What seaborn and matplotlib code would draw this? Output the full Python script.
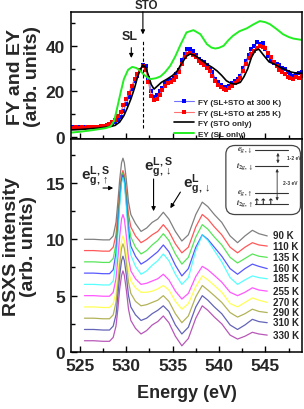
import numpy as np
import pandas as pd
import matplotlib
matplotlib.use('Agg')
import matplotlib.pyplot as plt
import seaborn as sns
from matplotlib.patches import FancyBboxPatch
from matplotlib.ticker import MultipleLocator

# ---------------- data: top panel ----------------
fy_start, fy_step = 524.0, 0.3
fy_300K = [4.0, 4.1, 4.0, 4.2, 4.1, 4.3, 4.2, 4.4, 4.3, 4.5, 4.4, 4.6, 4.7, 4.9, 5.2,
           5.8, 6.5, 7.4, 8.8, 11.5, 14.5, 17.4, 21.0, 24.5, 27.0, 29.5, 31.6, 31.0, 26.0, 20.0,
           17.6, 18.2, 20.0, 21.5, 23.5, 24.5, 25.0, 25.8, 27.5, 29.5, 34.0, 36.5, 38.6, 38.9, 38.0,
           36.0, 34.2, 33.5, 33.0, 31.5, 30.0, 28.5, 25.5, 24.0, 22.8, 22.0, 21.8, 22.5, 23.8, 24.5,
           25.5, 27.0, 30.5, 33.5, 36.0, 38.5, 40.0, 41.6, 41.0, 41.5, 38.5, 35.7, 34.0, 32.5, 32.0,
           31.5, 30.5, 30.0, 28.5, 27.5, 27.0, 27.5, 28.0, 28.4]
fy_255K = [3.8, 4.0, 4.2, 3.9, 4.1, 4.0, 4.3, 4.2, 4.4, 4.3, 4.5, 4.6, 4.8, 5.2, 5.6,
           6.4, 7.6, 9.0, 11.0, 13.8, 16.5, 19.5, 22.5, 25.5, 27.5, 29.5, 31.0, 29.5, 24.0, 18.0,
           16.0, 16.8, 18.5, 20.5, 22.5, 23.5, 24.0, 24.8, 26.5, 28.5, 32.0, 35.0, 36.5, 37.0, 36.0,
           35.0, 33.5, 32.5, 31.8, 30.5, 29.0, 27.0, 24.5, 23.0, 22.0, 21.0, 20.8, 21.5, 22.5, 23.5,
           24.5, 26.0, 29.0, 32.0, 34.5, 36.5, 38.0, 39.0, 40.0, 39.5, 39.0, 37.0, 35.0, 33.0, 31.0,
           29.5, 28.5, 27.5, 26.5, 26.0, 25.5, 26.5, 26.0, 27.0]
sto_E = [524.0, 525.0, 526.0, 527.0, 527.8, 528.4, 528.8, 529.3, 529.75, 530.1, 530.5, 530.9,
         531.2, 531.5, 531.8, 532.1, 532.4, 532.7, 533.0, 533.4, 533.8, 534.4, 535.0, 535.5,
         536.0, 536.5, 536.9, 537.3, 537.7, 538.2, 538.7, 539.3, 539.8, 540.3, 540.8, 541.3,
         541.8, 542.3, 542.7, 543.1, 543.5, 543.9, 544.3, 544.8, 545.4, 546.0, 546.6, 547.2,
         547.8, 548.4, 548.9]
sto_FY = [3.0, 3.2, 3.5, 3.8, 4.2, 4.6, 5.0, 6.5, 9.3, 12.5, 16.6, 21.5, 26.0, 29.5, 31.6,
          30.5, 27.0, 23.0, 21.0, 22.5, 24.0, 25.4, 27.0, 29.0, 32.5, 35.5, 36.5, 36.0, 35.0,
          33.5, 32.0, 30.5, 29.0, 27.0, 24.7, 23.5, 23.2, 24.0, 26.5, 30.0, 35.0, 38.0, 38.6,
          36.0, 33.0, 32.0, 30.5, 29.5, 28.5, 28.0, 28.0]
sl_E = [524.0, 525.0, 526.0, 527.0, 527.8, 528.3, 528.7, 529.0, 529.4, 529.75, 530.2, 530.65,
        531.1, 531.5, 532.0, 532.6, 533.2, 533.7, 534.2, 534.75, 535.3, 535.8, 536.5, 537.25,
        538.0, 538.7, 539.2, 539.6, 540.0, 540.5, 541.0, 541.5, 542.2, 543.0, 543.7, 544.4,
        545.0, 545.5, 546.2, 546.9, 547.5, 548.0, 548.9]
sl_EY = [1.8, 2.2, 2.7, 3.3, 3.8, 4.5, 7.0, 12.2, 19.5, 25.4, 29.5, 30.8, 30.3, 29.1, 27.0,
         25.4, 25.8, 26.6, 28.5, 31.3, 35.5, 40.1, 46.0, 47.0, 45.2, 40.8, 39.3, 38.9, 39.2,
         40.1, 42.5, 44.5, 46.5, 47.8, 49.5, 51.0, 50.5, 49.6, 47.5, 45.2, 44.0, 43.3, 42.7]
sto_edge = 531.8
sl_edge = 530.55

# ---------------- data: bottom panel ----------------
rsxs_E = [525.5, 526.5, 527.5, 528.2, 528.6, 528.9, 529.1, 529.3, 529.5, 529.65, 529.8, 530.0,
          530.25, 530.5, 531.0, 531.6, 532.2, 532.8, 533.4, 534.0, 534.6, 535.3, 536.0, 536.7,
          537.5, 538.2, 538.8, 539.5, 540.3, 541.2, 542.0, 542.8, 543.6, 544.3, 545.2]
temps = ['90 K', '110 K', '135 K', '160 K', '185 K', '255 K', '270 K', '290 K', '310 K', '330 K']
offsets = [10, 9, 8, 7, 6, 5, 4, 3, 2, 1]
rsxs = {
    '90 K':  [0, 0, -0.05, -0.05, 0.3, 1.5, 3.3, 5.3, 6.8, 7.2, 6.8, 5.4, 3.3, 2.2, 1.4, 0.7, 1.0, 1.5,
              1.8, 2.4, 1.8, 0.7, -0.15, 0.4, 2.2, 3.3, 2.9, 2.2, 1.5, 0.3, -0.3, 0.3, 0.8, 0.5, 0.3],
    '110 K': [0, 0, -0.05, -0.05, 0.3, 1.4, 3.2, 5.2, 6.7, 7.1, 6.7, 5.3, 3.2, 2.1, 1.3, 0.7, 1.0, 1.4,
              1.7, 2.3, 1.7, 0.6, -0.2, 0.3, 2.1, 3.2, 2.8, 2.1, 1.4, 0.3, -0.2, 0.3, 0.7, 0.5, 0.4],
    '135 K': [0, 0, -0.05, -0.05, 0.3, 1.6, 3.6, 5.8, 7.4, 7.9, 7.4, 5.8, 3.5, 2.2, 1.3, 0.7, 1.0, 1.5,
              1.9, 2.5, 1.9, 0.7, -0.2, 0.4, 2.2, 3.3, 2.9, 2.2, 1.5, 0.4, -0.1, 0.3, 0.7, 0.5, 0.4],
    '160 K': [0, 0, -0.05, -0.05, 0.3, 1.8, 4.0, 6.4, 8.2, 8.7, 8.2, 6.4, 3.8, 2.4, 1.5, 0.8, 1.1, 1.5,
              1.9, 2.5, 1.9, 0.7, -0.25, 0.4, 2.3, 3.4, 3.0, 2.3, 1.5, 0.4, -0.1, 0.4, 0.8, 0.6, 0.4],
    '185 K': [0, 0, -0.05, -0.05, 0.3, 2.0, 4.4, 7.0, 9.0, 9.5, 9.0, 7.0, 4.2, 2.6, 1.6, 0.9, 1.2, 1.7,
              2.1, 2.7, 2.1, 0.9, 0.0, 0.6, 3.0, 4.4, 3.9, 3.0, 2.0, 0.6, 0.0, 0.4, 0.75, 0.6, 0.5],
    '255 K': [0, 0, -0.05, -0.05, 0.3, 1.5, 3.3, 5.3, 6.8, 7.2, 6.8, 5.4, 3.3, 2.2, 1.5, 1.0, 1.1, 1.3,
              1.5, 1.9, 1.4, 0.4, -0.3, 0.2, 1.7, 2.6, 2.3, 1.8, 1.2, 0.3, 0.0, 0.3, 0.7, 0.5, 0.4],
    '270 K': [0, 0, -0.05, -0.05, 0.3, 1.3, 2.9, 4.6, 5.9, 6.3, 5.9, 4.8, 3.2, 2.3, 1.7, 1.3, 1.3, 1.4,
              1.6, 1.9, 1.5, 0.5, -0.2, 0.3, 1.8, 2.75, 2.4, 1.9, 1.3, 0.3, 0.0, 0.4, 0.8, 0.6, 0.4],
    '290 K': [0, 0, -0.05, -0.05, 0.3, 1.4, 3.0, 4.8, 6.2, 6.6, 6.2, 5.0, 3.2, 2.2, 1.5, 1.1, 1.2, 1.4,
              1.6, 2.0, 1.5, 0.4, -0.4, 0.2, 1.9, 2.9, 2.5, 2.0, 1.4, 0.5, 0.1, 0.4, 0.8, 0.6, 0.5],
    '310 K': [0, 0, -0.05, -0.05, 0.3, 1.3, 3.0, 4.8, 6.1, 6.5, 6.1, 4.9, 3.0, 2.0, 1.3, 0.8, 1.0, 1.4,
              1.7, 2.1, 1.6, 0.4, -0.4, 0.2, 2.0, 3.0, 2.6, 2.0, 1.4, 0.4, 0.0, 0.4, 0.9, 0.7, 0.6],
    '330 K': [0, 0, -0.05, -0.05, 0.3, 1.3, 2.8, 4.6, 5.8, 6.2, 5.8, 4.6, 2.8, 1.8, 1.1, 0.6, 0.9, 1.4,
              1.7, 2.2, 1.6, 0.4, -0.45, 0.2, 2.0, 3.1, 2.7, 2.1, 1.5, 0.5, 0.15, 0.4, 0.75, 0.6, 0.5],
}
colors = ['#555555', '#ff2020', '#20dd20', '#2020ff', '#20ffff', '#ff20ff', '#ffff20',
          '#999922', '#3030a0', '#a020a0']

# ---------------- style ----------------
sns.set_theme(style='ticks')
plt.rcParams['font.family'] = ['Liberation Sans', 'DejaVu Sans']
plt.rcParams['font.weight'] = 'bold'
plt.rcParams['axes.labelweight'] = 'bold'
plt.rcParams['mathtext.fontset'] = 'custom'
plt.rcParams['mathtext.rm'] = 'Liberation Sans:bold'
plt.rcParams['mathtext.bf'] = 'Liberation Sans:bold'
plt.rcParams['mathtext.it'] = 'Liberation Sans:italic:bold'

fig = plt.figure(figsize=(3.04, 4.10), dpi=100)
ax_top = fig.add_axes([0.232, 0.6585, 0.763, 0.3098])
ax_bot = fig.add_axes([0.232, 0.139, 0.763, 0.5195])

# ---------------- top panel ----------------
fy_E = [round(fy_start + fy_step * i, 2) for i in range(len(fy_300K))]
top_df = pd.DataFrame({'E': fy_E, 'y300': fy_300K, 'y255': fy_255K[:len(fy_E)]})
sns.lineplot(data=top_df, x='E', y='y300', ax=ax_top, color='#7070ff', lw=0.8,
             marker='s', markersize=3.0, markerfacecolor='#0000ff', markeredgecolor='#0000ff',
             markeredgewidth=0, estimator=None, sort=False, label='FY (SL+STO at 300 K)')
sns.lineplot(data=top_df, x='E', y='y255', ax=ax_top, color='#ff7070', lw=0.8,
             marker='s', markersize=3.0, markerfacecolor='#ff0000', markeredgecolor='#ff0000',
             markeredgewidth=0, estimator=None, sort=False, label='FY (SL+STO at 255 K)')
sns.lineplot(x=sto_E, y=sto_FY, ax=ax_top, color='black', lw=1.2, estimator=None, sort=False,
             label='FY (STO only)')
sns.lineplot(x=sl_E, y=sl_EY, ax=ax_top, color='#22ee22', lw=1.4, estimator=None, sort=False,
             label='EY (SL only)')

ax_top.vlines(sto_edge, 4, 42, colors='black', linestyles=(0, (3, 2)), lw=0.8)
ax_top.annotate('', xy=(sto_edge, 43.9), xytext=(sto_edge, 56.3),
                arrowprops=dict(arrowstyle='-|>', color='black', lw=0.8, mutation_scale=6),
                annotation_clip=False)
ax_top.text(sto_edge + 0.4, 58.1, 'STO', ha='center', va='center', fontsize=8.3,
            fontweight='bold', clip_on=False)
ax_top.annotate('', xy=(sl_edge, 33.5), xytext=(sl_edge, 40.5),
                arrowprops=dict(arrowstyle='-|>', color='black', lw=0.8, mutation_scale=6))
ax_top.text(sl_edge - 0.2, 44.6, 'SL', ha='center', va='center', fontsize=9, fontweight='bold')

ax_top.set_xlim(524, 549)
ax_top.set_ylim(-1, 55)
ax_top.yaxis.set_major_locator(MultipleLocator(20))
ax_top.yaxis.set_minor_locator(MultipleLocator(10))
ax_top.xaxis.set_major_locator(MultipleLocator(5))
ax_top.xaxis.set_minor_locator(MultipleLocator(2.5))
ax_top.tick_params(axis='x', labelbottom=False)
ax_top.set_xlabel('')
ax_top.set_ylabel('FY and EY\n(arb. units)', fontsize=14, fontweight='bold', labelpad=3,
                  linespacing=1.0)

leg = ax_top.legend(loc='lower left', bbox_to_anchor=(0.44, 0.0), frameon=False,
                    fontsize=5.9, handlelength=2.5, handletextpad=0.5, labelspacing=0.35,
                    borderaxespad=0, borderpad=0.15, markerscale=1.0)
for t in leg.get_texts():
    t.set_fontweight('bold')

# ---------------- bottom panel ----------------
rows = []
for t, off in zip(temps, offsets):
    for e, v in zip(rsxs_E, rsxs[t]):
        rows.append({'E': e, 'I': v + off, 'T': t})
bot_df = pd.DataFrame(rows)
sns.lineplot(data=bot_df, x='E', y='I', hue='T', hue_order=temps,
             palette=dict(zip(temps, colors)), ax=ax_bot, lw=0.9, alpha=0.75,
             estimator=None, sort=False, legend=False)
for t, off in zip(temps, offsets):
    ax_bot.text(545.8, rsxs[t][-1] + off + 0.05, t, ha='left', va='center',
                fontsize=7, fontweight='bold')

ax_bot.text(525.1, 15.6, r'$\mathrm{e^{L,S}_{g,\uparrow}}$', ha='left', va='center', fontsize=11)
ax_bot.annotate('', xy=(528.9, 14.55), xytext=(527.2, 14.55),
                arrowprops=dict(arrowstyle='-|>', color='black', lw=0.8, mutation_scale=6))
ax_bot.text(531.9, 16.4, r'$\mathrm{e^{L,S}_{g,\downarrow}}$', ha='left', va='center', fontsize=11)
ax_bot.annotate('', xy=(532.95, 12.25), xytext=(532.95, 15.6),
                arrowprops=dict(arrowstyle='-|>', color='black', lw=0.8, mutation_scale=6))
ax_bot.text(536.1, 14.9, r'$\mathrm{e^{L}_{g,\downarrow}}$', ha='left', va='center', fontsize=11)
ax_bot.annotate('', xy=(534.6, 12.55), xytext=(536.0, 14.4),
                arrowprops=dict(arrowstyle='-|>', color='black', lw=0.8, mutation_scale=6))

ax_bot.set_xlim(524, 549)
ax_bot.set_ylim(0, 18.9)
ax_bot.yaxis.set_major_locator(MultipleLocator(5))
ax_bot.yaxis.set_minor_locator(MultipleLocator(2.5))
ax_bot.xaxis.set_major_locator(MultipleLocator(5))
ax_bot.xaxis.set_minor_locator(MultipleLocator(2.5))
ax_bot.set_xlabel('Energy (eV)', fontsize=13, fontweight='bold', labelpad=8)
ax_bot.set_ylabel('RSXS intensity\n(arb. units)', fontsize=14, fontweight='bold', labelpad=6,
                  linespacing=1.0)

for ax in (ax_top, ax_bot):
    for s in ax.spines.values():
        s.set_linewidth(1.1)
        s.set_color('black')
    ax.tick_params(which='major', direction='in', length=4, width=1, labelsize=12.5, pad=4,
                   color='black')
    ax.tick_params(which='minor', direction='in', length=3, width=1, color='black')
    for lab in ax.get_xticklabels() + ax.get_yticklabels():
        lab.set_fontweight('bold')

# ---------------- inset level diagram ----------------
ax_in = ax_bot.inset_axes([0.663, 0.635, 0.335, 0.345])
ax_in.set_xlim(0, 1)
ax_in.set_ylim(0, 1)
ax_in.axis('off')
ax_in.add_patch(FancyBboxPatch((0.02, 0.03), 0.96, 0.94, boxstyle='round,pad=0,rounding_size=0.12',
                               transform=ax_in.transAxes, facecolor='white', edgecolor='#444444',
                               lw=0.9, clip_on=False))
levels = [0.907, 0.69, 0.33, 0.18]
level_labels = [r'$e_{g,\downarrow}$', r'$t_{2g,\downarrow}$', r'$e_{g,\uparrow}$', r'$t_{2g,\uparrow}$']
for lv, lab in zip(levels, level_labels):
    ax_in.plot([0.40, 0.82], [lv, lv], color='#333333', lw=0.8)
    ax_in.text(0.26, lv, lab, ha='center', va='center', fontsize=6.5, color='#444444',
               math_fontfamily='stix')
ax_in.annotate('', xy=(0.69, levels[0]), xytext=(0.69, levels[1]),
               arrowprops=dict(arrowstyle='<|-|>', color='#333333', lw=0.6, mutation_scale=4))
ax_in.annotate('', xy=(0.68, levels[1]), xytext=(0.68, levels[3]),
               arrowprops=dict(arrowstyle='<|-|>', color='#333333', lw=0.6, mutation_scale=4))
ax_in.text(0.90, 0.80, '1-2 eV', ha='center', va='center', fontsize=3.5, color='#333333')
ax_in.text(0.85, 0.47, '2-3 eV', ha='center', va='center', fontsize=3.5, color='#333333')
ax_in.text(0.505, levels[3] + 0.03, '↑↑↑', ha='center', va='center', fontsize=6.5,
           color='#222222', family=['DejaVu Sans'])

fig.savefig('out.png', dpi=100)
